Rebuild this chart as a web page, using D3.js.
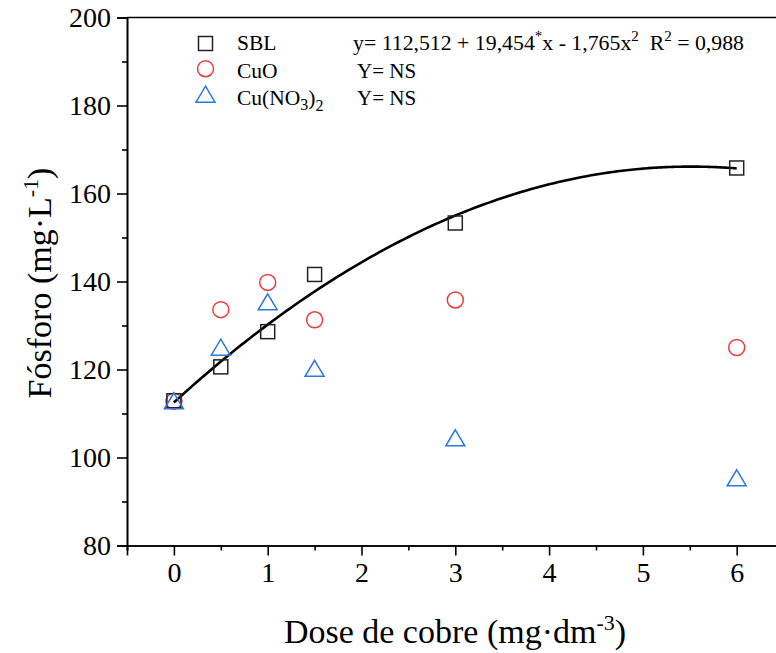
<!DOCTYPE html>
<html>
<head>
<meta charset="utf-8">
<script src="https://cdn.jsdelivr.net/npm/d3@7"></script>
<style>
  html, body { margin: 0; padding: 0; background: #fff; }
  svg { display: block; }
  text { font-family: "Liberation Serif", "Times New Roman", serif; fill: #000; }
</style>
</head>
<body>
<svg id="chart" width="776" height="653"></svg>
<script>
// ---- data ----
const doses = [0, 0.5, 1, 1.5, 3, 6];
const sbl = [112.9, 120.6, 128.6, 141.6, 153.3, 165.8];
const cuo = [112.8, 133.6, 139.8, 131.3, 135.8, 125.0];
const cuno3 = [112.7, 124.9, 135.2, 120.1, 104.3, 95.2];
const fitCoef = [112.512, 19.454, -1.765]; // SBL quadratic fit from equation
const xTicks = [0, 1, 2, 3, 4, 5, 6];
const yTicks = [80, 100, 120, 140, 160, 180, 200];

const serif = '"Liberation Serif", "Times New Roman", serif';
const svg = d3.select("#chart");
const mLeft = 127, mTop = 17.5, mBottom = 545.5;
const unit = 93.8;
const x = d3.scaleLinear().domain([-0.5, 6.5]).range([mLeft, mLeft + 7 * unit]);
const y = d3.scaleLinear().domain([80, 200]).range([mBottom, mTop]);

const red = "#f0393d", blue = "#2b77e0";

// minor ticks
const xMinor = d3.range(-0.5, 6.51, 0.5).filter(v => Math.abs(v - Math.round(v)) > 0.01);
const yMinor = d3.range(90, 200, 20);

const axisG = svg.append("g");
// x axis
axisG.append("g").attr("transform", `translate(0,${mBottom})`)
  .call(d3.axisBottom(x).tickValues(xTicks).tickFormat(d3.format("d")).tickSizeOuter(0).tickSize(10).tickPadding(7));
axisG.append("g").attr("transform", `translate(0,${mBottom})`)
  .call(d3.axisBottom(x).tickValues(xMinor).tickFormat("").tickSizeOuter(0).tickSize(5));
// y axis
axisG.append("g").attr("transform", `translate(${mLeft},0)`)
  .call(d3.axisLeft(y).tickValues(yTicks).tickFormat(d3.format("d")).tickSizeOuter(0).tickSize(10).tickPadding(6));
axisG.append("g").attr("transform", `translate(${mLeft},0)`)
  .call(d3.axisLeft(y).tickValues(yMinor).tickFormat("").tickSizeOuter(0).tickSize(5));
// top spine
axisG.append("line").attr("x1", mLeft).attr("x2", 776).attr("y1", mTop).attr("y2", mTop)
  .attr("stroke", "#000").attr("stroke-width", 1.6);

axisG.selectAll("g").attr("font-family", serif).attr("font-size", 28);
axisG.selectAll(".domain").attr("stroke", "#000").attr("stroke-width", 1.6);
axisG.selectAll(".tick line").attr("stroke", "#000").attr("stroke-width", 1.6);
axisG.selectAll(".tick text").style("font-family", serif)
  .style("font-size", "28px").attr("fill", "#000");

// axis titles
const xt = svg.append("text").attr("x", 455).attr("y", 643).attr("text-anchor", "middle")
  .style("font-size", "34px");
xt.append("tspan").text("Dose de cobre (mg·dm");
xt.append("tspan").attr("dy", -13).style("font-size", "22px").text("-3");
xt.append("tspan").attr("dy", 13).text(")");

const yt = svg.append("text").attr("transform", "translate(51,283) rotate(-90)")
  .attr("text-anchor", "middle").style("font-size", "34px");
yt.append("tspan").text("Fósforo (mg·L");
yt.append("tspan").attr("dy", -13).style("font-size", "22px").text("-1");
yt.append("tspan").attr("dy", 13).text(")");

// fit curve
const curvePts = d3.range(0, 6.001, 0.05).map(v => [v, fitCoef[0] + fitCoef[1] * v + fitCoef[2] * v * v]);
svg.append("path").datum(curvePts)
  .attr("d", d3.line().x(d => x(d[0])).y(d => y(d[1])).curve(d3.curveMonotoneX))
  .attr("fill", "none").attr("stroke", "#000").attr("stroke-width", 2.6);

// markers
function square(g, cx, cy) {
  g.append("rect").attr("x", cx - 7).attr("y", cy - 7).attr("width", 14).attr("height", 14)
    .attr("fill", "none").attr("stroke", "#222").attr("stroke-width", 1.5);
}
function circle(g, cx, cy) {
  g.append("circle").attr("cx", cx).attr("cy", cy).attr("r", 8)
    .attr("fill", "none").attr("stroke", red).attr("stroke-width", 1.5);
}
function tri(g, cx, cy) {
  const w = 9.5, h = 16;
  g.append("path").attr("d", `M${cx},${cy - h * 0.55} L${cx + w},${cy + h * 0.45} L${cx - w},${cy + h * 0.45} Z`)
    .attr("fill", "none").attr("stroke", blue).attr("stroke-width", 1.5);
}
const mg = svg.append("g");
doses.forEach((d, i) => circle(mg, x(d), y(cuo[i])));
doses.forEach((d, i) => square(mg, x(d), y(sbl[i])));
doses.forEach((d, i) => tri(mg, x(d), y(cuno3[i])));

// legend
const lg = svg.append("g");
square(lg, 205.5, 43.5);
circle(lg, 205.5, 68.7);
tri(lg, 205.5, 95);
const lf = "21.5px";
lg.append("text").attr("x", 237).attr("y", 50).style("font-size", lf).text("SBL");
lg.append("text").attr("x", 237).attr("y", 77.5).style("font-size", lf).text("CuO");
const l3 = lg.append("text").attr("x", 237).attr("y", 104.5).style("font-size", lf);
l3.append("tspan").text("Cu(NO");
l3.append("tspan").attr("dy", 5).style("font-size", "16px").text("3");
l3.append("tspan").attr("dy", -5).text(")");
l3.append("tspan").attr("dy", 6).style("font-size", "16px").text("2");

const ef = "21.8px", sf = "15px";
const eq = lg.append("text").attr("x", 353).attr("y", 50).style("font-size", ef);
eq.append("tspan").text("y= 112,512 + 19,454");
eq.append("tspan").attr("dy", -9).style("font-size", sf).text("*");
eq.append("tspan").attr("dy", 9).text("x - 1,765x");
eq.append("tspan").attr("dy", -9).style("font-size", sf).text("2");
eq.append("tspan").attr("dy", 9).text("\u00a0\u00a0R");
eq.append("tspan").attr("dy", -9).style("font-size", sf).text("2");
eq.append("tspan").attr("dy", 9).text(" = 0,988");
lg.append("text").attr("x", 357).attr("y", 77.5).style("font-size", "21px").text("Y= NS");
lg.append("text").attr("x", 357).attr("y", 104.5).style("font-size", "21px").text("Y= NS");
</script>
</body>
</html>
